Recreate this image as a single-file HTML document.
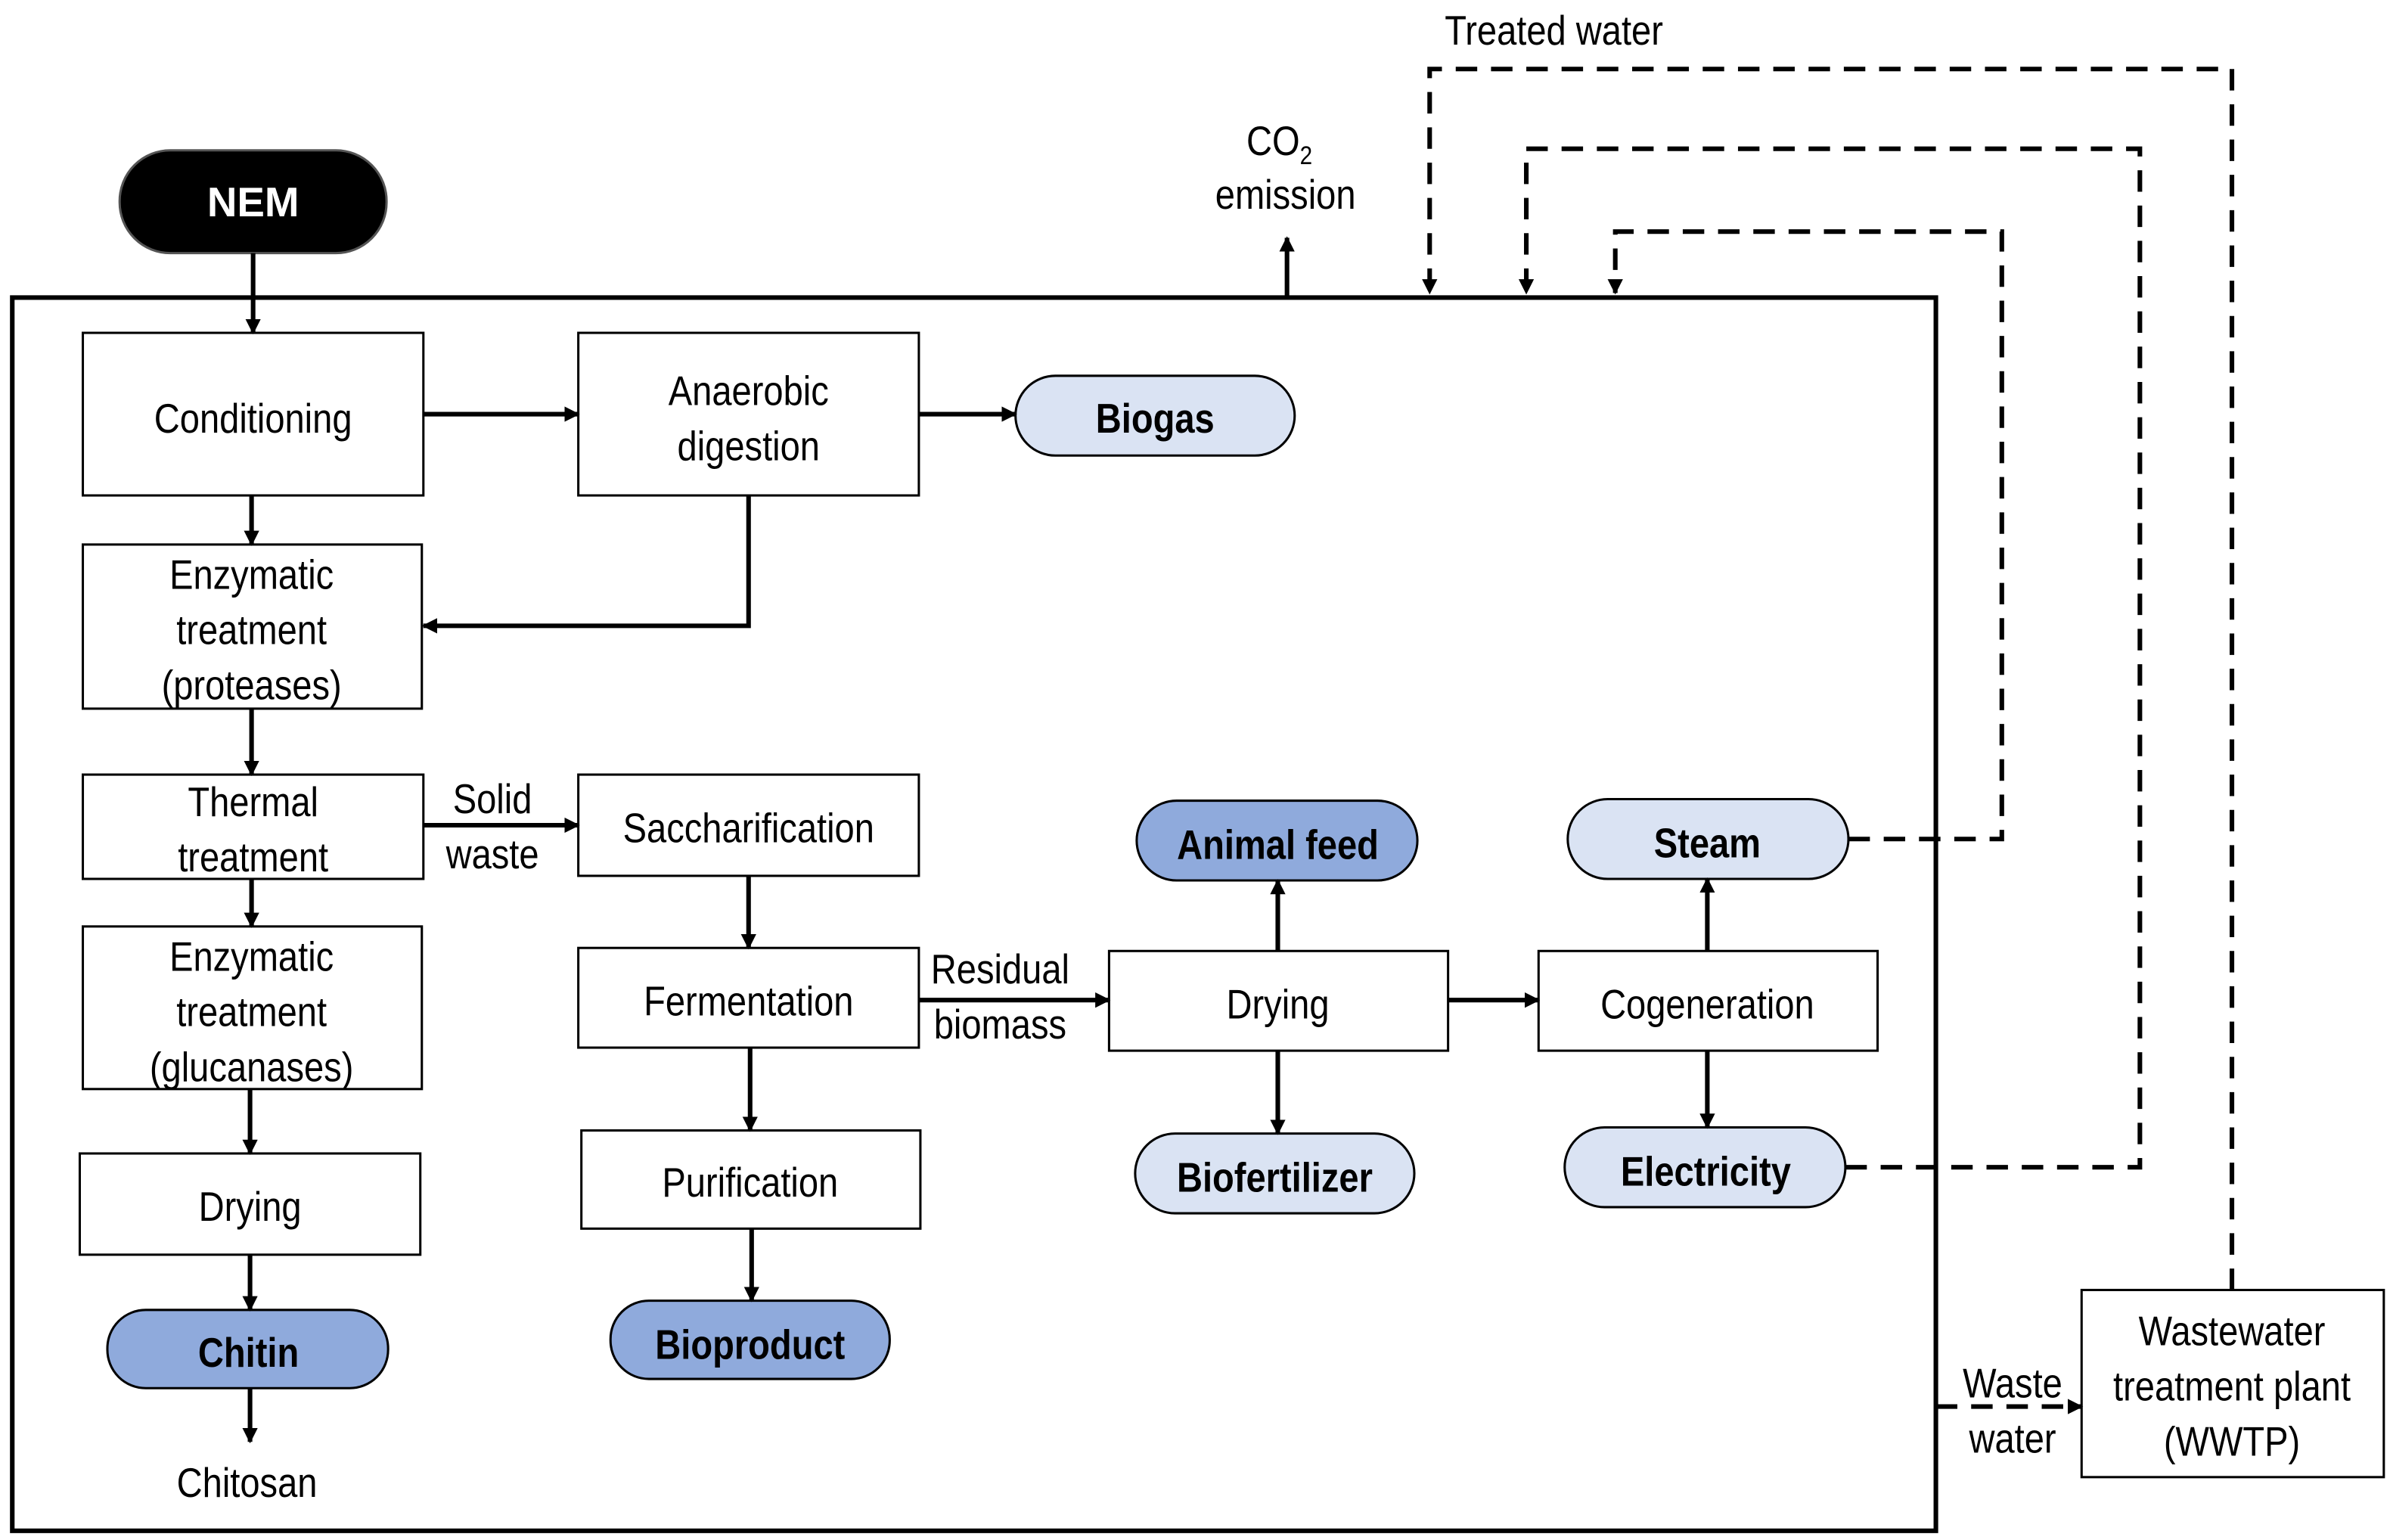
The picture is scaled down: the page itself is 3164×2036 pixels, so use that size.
<!DOCTYPE html>
<html><head><meta charset="utf-8"><style>
html,body{margin:0;padding:0;background:#fff;}
svg{display:block;}
text{font-family:"Liberation Sans",sans-serif;fill:#000;}
.t{font-size:27px;text-anchor:middle;}
.b{font-size:27px;font-weight:bold;text-anchor:middle;}
</style></head><body>
<svg width="3164" height="2036" viewBox="0 0 1560 1004" preserveAspectRatio="none" xmlns="http://www.w3.org/2000/svg">
<defs>
<marker id="a" markerWidth="10" markerHeight="10" refX="9" refY="5" orient="auto" markerUnits="userSpaceOnUse">
<path d="M0,0 L10,5 L0,10 z" fill="#000"/></marker>
</defs>
<g fill="#fff" stroke="#000" stroke-width="1.5">
<rect x="8" y="194" width="1254" height="804" fill="none" stroke-width="3"/>
<rect x="54" y="217" width="222" height="106"/>
<rect x="377" y="217" width="222" height="106"/>
<rect x="54" y="355" width="221" height="107"/>
<rect x="54" y="505" width="222" height="68"/>
<rect x="377" y="505" width="222" height="66"/>
<rect x="54" y="604" width="221" height="106"/>
<rect x="377" y="618" width="222" height="65"/>
<rect x="379" y="737" width="221" height="64"/>
<rect x="52" y="752" width="222" height="66"/>
<rect x="723" y="620" width="221" height="65"/>
<rect x="1003" y="620" width="221" height="65"/>
<rect x="1357" y="841" width="197" height="122"/>
<rect x="78" y="98" width="174" height="67" rx="33" fill="#000" stroke="#555"/>
<rect x="662" y="245" width="182" height="52" rx="26" fill="#dae3f3"/>
<rect x="741" y="522" width="183" height="52" rx="26" fill="#8faadc"/>
<rect x="1022" y="521" width="183" height="52" rx="26" fill="#dae3f3"/>
<rect x="740" y="739" width="182" height="52" rx="26" fill="#dae3f3"/>
<rect x="1020" y="735" width="183" height="52" rx="26" fill="#dae3f3"/>
<rect x="398" y="848" width="182" height="51" rx="25" fill="#8faadc"/>
<rect x="70" y="854" width="183" height="51" rx="25" fill="#8faadc"/>
</g>
<g stroke="#000" stroke-width="3" fill="none" marker-end="url(#a)">
<path d="M165 165 V217"/>
<path d="M276 270 H377"/>
<path d="M599 270 H662"/>
<path d="M164 323 V355"/>
<path d="M488 323 V408 H276"/>
<path d="M164 462 V505"/>
<path d="M276 538 H377"/>
<path d="M164 573 V604"/>
<path d="M163 710 V752"/>
<path d="M163 818 V854"/>
<path d="M163 905 V940"/>
<path d="M488 571 V618"/>
<path d="M489 683 V737"/>
<path d="M490 801 V848"/>
<path d="M599 652 H723"/>
<path d="M944 652 H1003"/>
<path d="M833 620 V574"/>
<path d="M833 685 V739"/>
<path d="M1113 620 V573"/>
<path d="M1113 685 V735"/>
<path d="M839 194 V155"/>
</g>
<g stroke="#000" stroke-width="3" fill="none" stroke-dasharray="14 9" marker-end="url(#a)">
<path d="M1455 841 V45 H932 V191"/>
<path d="M1203 761 H1395 V97 H995 V191"/>
<path d="M1205 547 H1305 V151 H1053 V191"/>
<path d="M1262 917 H1357"/>
</g>
<text transform="translate(165 141)" class="b" style="fill:#fff">NEM</text>
<g>
<text transform="translate(165 282) scale(0.86 1)" class="t">Conditioning</text>
<text transform="translate(488 264) scale(0.86 1)" class="t">Anaerobic</text>
<text transform="translate(488 300) scale(0.86 1)" class="t">digestion</text>
<text transform="translate(753 282) scale(0.86 1)" class="b">Biogas</text>
<text transform="translate(164 384) scale(0.86 1)" class="t">Enzymatic</text>
<text transform="translate(164 420) scale(0.86 1)" class="t">treatment</text>
<text transform="translate(164 456) scale(0.86 1)" class="t">(proteases)</text>
<text transform="translate(165 532) scale(0.86 1)" class="t">Thermal</text>
<text transform="translate(165 568) scale(0.86 1)" class="t">treatment</text>
<text transform="translate(321 530) scale(0.86 1)" class="t">Solid</text>
<text transform="translate(321 566) scale(0.86 1)" class="t">waste</text>
<text transform="translate(488 549) scale(0.86 1)" class="t">Saccharification</text>
<text transform="translate(164 633) scale(0.86 1)" class="t">Enzymatic</text>
<text transform="translate(164 669) scale(0.86 1)" class="t">treatment</text>
<text transform="translate(164 705) scale(0.86 1)" class="t">(glucanases)</text>
<text transform="translate(488 662) scale(0.86 1)" class="t">Fermentation</text>
<text transform="translate(652 641) scale(0.86 1)" class="t">Residual</text>
<text transform="translate(652 677) scale(0.86 1)" class="t">biomass</text>
<text transform="translate(489 780) scale(0.86 1)" class="t">Purification</text>
<text transform="translate(489 886) scale(0.86 1)" class="b">Bioproduct</text>
<text transform="translate(163 796) scale(0.86 1)" class="t">Drying</text>
<text transform="translate(162 891) scale(0.86 1)" class="b">Chitin</text>
<text transform="translate(161 976) scale(0.86 1)" class="t">Chitosan</text>
<text transform="translate(833 664) scale(0.86 1)" class="t">Drying</text>
<text transform="translate(833 560) scale(0.86 1)" class="b">Animal feed</text>
<text transform="translate(831 777) scale(0.86 1)" class="b">Biofertilizer</text>
<text transform="translate(1113 664) scale(0.86 1)" class="t">Cogeneration</text>
<text transform="translate(1113 559) scale(0.86 1)" class="b">Steam</text>
<text transform="translate(1112 773) scale(0.86 1)" class="b">Electricity</text>
<text transform="translate(1455 877) scale(0.86 1)" class="t">Wastewater</text>
<text transform="translate(1455 913) scale(0.86 1)" class="t">treatment plant</text>
<text transform="translate(1455 949) scale(0.86 1)" class="t">(WWTP)</text>
<text transform="translate(1312 911) scale(0.86 1)" class="t">Waste</text>
<text transform="translate(1312 947) scale(0.86 1)" class="t">water</text>
<text transform="translate(1013 29) scale(0.86 1)" class="t">Treated  water</text>
<text transform="translate(834 101) scale(0.86 1)" class="t">CO<tspan font-size="17" dy="6">2</tspan></text>
<text transform="translate(838 136) scale(0.86 1)" class="t">emission</text>
</g>
</svg>
</body></html>
